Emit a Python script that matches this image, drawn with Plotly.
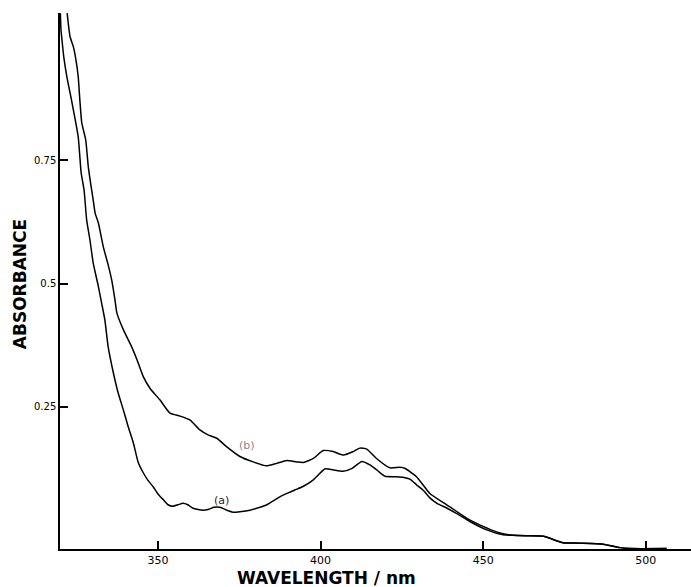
import plotly.graph_objects as go

# Curve (a)
wl_a = [320.0, 320.2, 320.5, 321.1, 322.0, 323.6, 325.5, 326.4, 327.3, 328.1,
        329.1, 330.1, 331.7, 332.8, 333.7, 334.7, 336.3, 337.7, 339.4, 340.8,
        342.4, 343.9, 345.5, 346.9, 348.6, 350.0, 351.7, 353.1, 354.6, 356.2,
        357.7, 359.2, 360.8, 363.9, 365.7, 367.2, 369.1, 371.2, 373.1, 375.2,
        378.3, 381.4, 383.5, 387.5, 389.7, 392.1, 394.6, 397.7, 401.4, 403.8,
        406.9, 409.7, 412.7, 415.2, 417.6, 419.8, 423.2, 425.3, 427.5, 429.6,
        431.5, 433.6, 435.8, 438.9, 441.9, 445.9, 451.1, 456.1, 459.1, 463.4,
        468.6, 470.5, 474.6, 479.7, 486.9, 492.0, 495.1, 506.4]
abs_a = [1.049, 1.015, 0.995, 0.958, 0.920, 0.867, 0.798, 0.725, 0.690, 0.629,
         0.589, 0.542, 0.494, 0.457, 0.426, 0.372, 0.319, 0.280, 0.243, 0.211,
         0.178, 0.138, 0.116, 0.101, 0.087, 0.073, 0.061, 0.051, 0.048, 0.051,
         0.054, 0.051, 0.044, 0.040, 0.042, 0.046, 0.046, 0.040, 0.036, 0.037,
         0.040, 0.046, 0.051, 0.067, 0.074, 0.081, 0.088, 0.101, 0.124, 0.122,
         0.119, 0.125, 0.139, 0.132, 0.120, 0.109, 0.108, 0.107, 0.103, 0.091,
         0.081, 0.065, 0.054, 0.044, 0.033, 0.017, 0.000, -0.010, -0.011, -0.012,
         -0.013, -0.017, -0.026, -0.027, -0.029, -0.036, -0.038, -0.038]

# Curve (b)
wl_b = [322.1, 322.5, 323.0, 324.0, 324.8, 325.5, 326.0, 326.6, 327.8, 328.6,
        329.4, 330.1, 330.7, 331.7, 333.2, 334.7, 335.8, 336.8, 337.4, 339.4,
        341.9, 343.6, 345.5, 347.6, 350.6, 353.7, 356.8, 359.9, 362.9, 365.4,
        368.1, 371.1, 375.2, 379.3, 383.4, 386.5, 389.6, 392.7, 394.7, 397.8,
        400.8, 403.9, 407.0, 410.1, 412.1, 414.2, 417.2, 421.3, 424.4, 425.9,
        429.5, 433.6, 438.8, 444.9, 450.0, 454.1, 459.2, 463.4, 468.6, 470.5,
        474.6, 479.7, 486.9, 492.0, 495.1, 506.4]
abs_b = [1.049, 1.025, 1.001, 0.981, 0.954, 0.920, 0.873, 0.826, 0.792, 0.737,
         0.700, 0.670, 0.643, 0.623, 0.575, 0.538, 0.507, 0.467, 0.440, 0.406,
         0.372, 0.345, 0.311, 0.287, 0.264, 0.237, 0.231, 0.223, 0.203, 0.193,
         0.186, 0.169, 0.149, 0.138, 0.130, 0.135, 0.141, 0.138, 0.137, 0.145,
         0.161, 0.159, 0.152, 0.159, 0.166, 0.164, 0.145, 0.126, 0.127, 0.125,
         0.108, 0.074, 0.051, 0.024, 0.007, -0.004, -0.011, -0.012, -0.013, -0.017,
         -0.026, -0.027, -0.029, -0.036, -0.038, -0.038]

x_ticks = [350, 400, 450, 500]
y_ticks = [0.25, 0.5, 0.75]
y_tick_text = ["0.25", "0.5", "0.75"]

fig = go.Figure()
fig.add_trace(go.Scatter(x=wl_a, y=abs_a, mode="lines",
                         line=dict(color="black", width=1.5, shape="spline", smoothing=0.5),
                         showlegend=False))
fig.add_trace(go.Scatter(x=wl_b, y=abs_b, mode="lines",
                         line=dict(color="black", width=1.5, shape="spline", smoothing=0.5),
                         showlegend=False))

fig.add_annotation(x=369.4, y=0.059, text="(a)", showarrow=False,
                   font=dict(family="DejaVu Sans", size=11, color="#222"))
fig.add_annotation(x=377.3, y=0.171, text="(b)", showarrow=False,
                   font=dict(family="DejaVu Sans", size=11, color="#888"))

fig.add_annotation(xref="paper", yref="paper", x=0.4216, y=-0.055, text="<b>WAVELENGTH / nm</b>",
                   showarrow=False, xanchor="center", yanchor="middle",
                   font=dict(family="DejaVu Sans", size=17, color="black"))
fig.add_annotation(xref="paper", yref="paper", x=-0.0634, y=0.494, text="<b>ABSORBANCE</b>",
                   showarrow=False, textangle=-90, xanchor="center", yanchor="middle",
                   font=dict(family="DejaVu Sans", size=17, color="black"))

fig.update_xaxes(range=[319.9, 513.9], showgrid=False, zeroline=False,
                 showline=True, linecolor="black", linewidth=1.5,
                 ticks="inside", ticklen=8, tickwidth=1.5, tickcolor="black",
                 tickvals=x_ticks, tickfont=dict(family="DejaVu Sans", size=11, color="black"))
fig.update_yaxes(range=[-0.0388, 1.0493], showgrid=False, zeroline=False,
                 showline=True, linecolor="black", linewidth=1.5,
                 ticks="inside", ticklen=8, tickwidth=1.5, tickcolor="black",
                 tickvals=y_ticks, ticktext=y_tick_text,
                 tickfont=dict(family="DejaVu Sans", size=10, color="black"))

fig.update_layout(width=691, height=587, margin=dict(l=60, r=0, t=13, b=38),
                  paper_bgcolor="white", plot_bgcolor="white")

fig.write_html("out.html")
